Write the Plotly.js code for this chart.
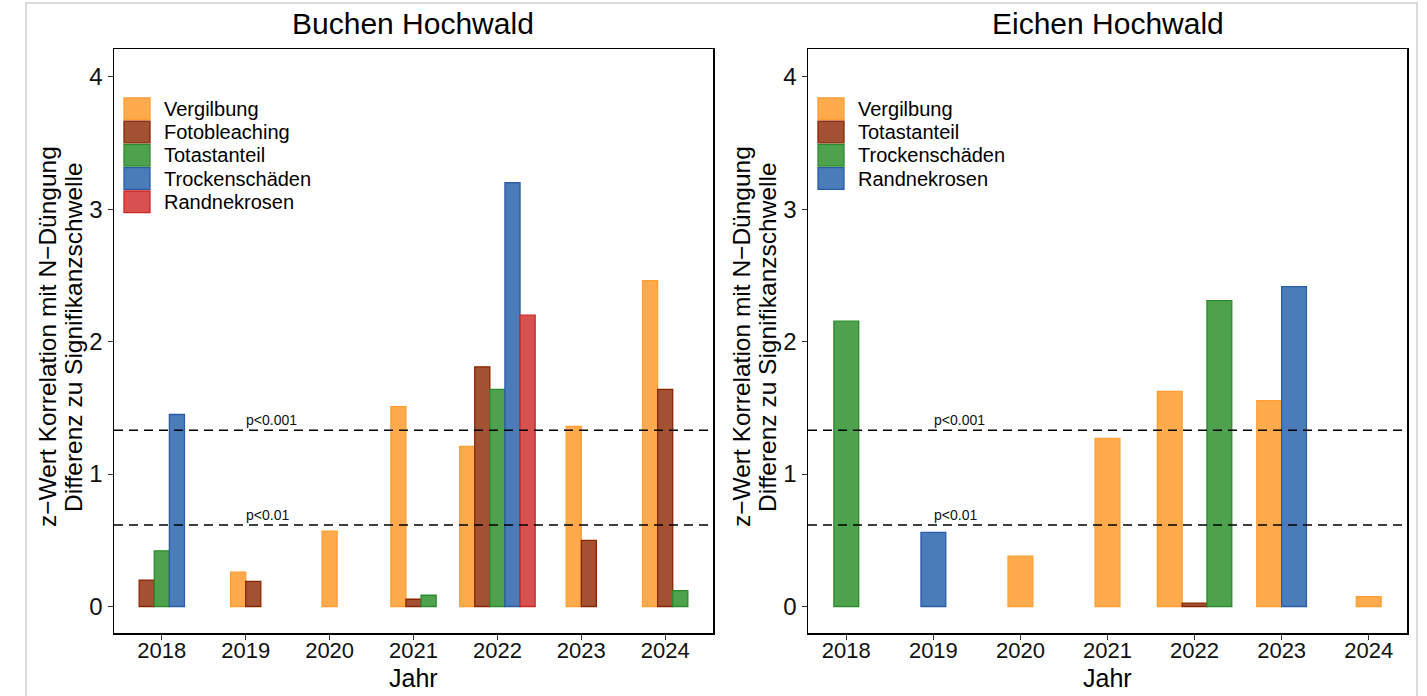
<!DOCTYPE html>
<html>
<head>
<meta charset="utf-8">
<script src="https://cdn.plot.ly/plotly-3.0.1.min.js"></script>
<style>
  html, body { margin: 0; padding: 0; background: #fff; }
  #chart { width: 1427px; height: 696px; }
</style>
</head>
<body>
<div id="chart"></div>
<script>
// ---------------- data ----------------
const years = ['2018', '2019', '2020', '2021', '2022', '2023', '2024'];

// Buchen Hochwald
const buchenSeries = ['Vergilbung', 'Fotobleaching', 'Totastanteil', 'Trockenschäden', 'Randnekrosen'];
const buchenVergilbung     = [null, 0.26, 0.57, 1.51, 1.21, 1.36, 2.46];
const buchenFotobleaching  = [0.20, 0.19, null, 0.055, 1.81, 0.50, 1.64];
const buchenTotastanteil   = [0.42, null, null, 0.085, 1.64, null, 0.12];
const buchenTrockenschaeden = [1.45, null, null, null, 3.20, null, null];
const buchenRandnekrosen   = [null, null, null, null, 2.20, null, null];

// Eichen Hochwald
const eichenSeries = ['Vergilbung', 'Totastanteil', 'Trockenschäden', 'Randnekrosen'];
const eichenVergilbung      = [null, null, 0.38, 1.27, 1.625, 1.555, 0.075];
const eichenTotastanteil    = [null, null, null, null, 0.025, null, null];
const eichenTrockenschaeden = [2.155, null, null, null, 2.31, null, null];
const eichenRandnekrosen    = [null, 0.56, null, null, null, 2.415, null];

// Significance thresholds (difference to z = 1.96)
const thresholds = [1.331, 0.616];
const thresholdLabels = ['p&lt;0.001', 'p&lt;0.01'];

const panelTitles = ['Buchen Hochwald', 'Eichen Hochwald'];
const yTitleLines = ['z\u2212Wert Korrelation mit N\u2212Düngung', 'Differenz zu Signifikanzschwelle'];
const xTitle = 'Jahr';

// ---------------- styles ----------------
const buchenFill = ['#FFAA4C', '#A25133', '#4EA24E', '#4A7CBA', '#D75151'];
const buchenLine = ['#FF9F33', '#8B2500', '#2A8B2A', '#2A5CA8', '#CD2626'];
const eichenFill = ['#FFAA4C', '#A25133', '#4EA24E', '#4A7CBA'];
const eichenLine = ['#FF9F33', '#8B2500', '#2A8B2A', '#2A5CA8'];

const W = 1427, H = 696;
const FONT = 'Liberation Sans, Arial, Helvetica, sans-serif';
const panels = [
  { x0: 114, x1: 713, xr: [-0.57, 6.57], barW: 0.18 },
  { x0: 808, x1: 1407, xr: [-0.44, 6.44], barW: 0.285 }
];
const plotTop = 49, plotBottom = 633;
const px = v => v / W;
const py = v => 1 - v / H;

// dodge bars centered on category, like position_dodge(preserve = "single")
function dodge(seriesVals, w) {
  const counts = years.map((_, j) => seriesVals.filter(s => s[j] != null).length);
  const k = years.map(() => 0);
  return seriesVals.map(s => years.map((_, j) => {
    if (s[j] == null) return null;
    const off = -counts[j] * w / 2 + k[j] * w;
    k[j]++;
    return off;
  }));
}

function makeTraces(names, vals, fills, lines, w, xa, ya) {
  const offs = dodge(vals, w);
  return names.map((name, i) => {
    const xs = [], ys = [], os = [];
    years.forEach((yr, j) => {
      if (vals[i][j] != null) { xs.push(yr); ys.push(vals[i][j]); os.push(offs[i][j]); }
    });
    return {
      type: 'bar', name: name, x: xs, y: ys, offset: os, width: w,
      xaxis: xa, yaxis: ya, showlegend: false,
      marker: { color: fills[i], line: { color: lines[i], width: 1.3 } },
      hoverinfo: 'x+y+name'
    };
  });
}

const traces = [].concat(
  makeTraces(buchenSeries,
    [buchenVergilbung, buchenFotobleaching, buchenTotastanteil, buchenTrockenschaeden, buchenRandnekrosen],
    buchenFill, buchenLine, panels[0].barW, 'x', 'y'),
  makeTraces(eichenSeries,
    [eichenVergilbung, eichenTotastanteil, eichenTrockenschaeden, eichenRandnekrosen],
    eichenFill, eichenLine, panels[1].barW, 'x2', 'y2')
);

function xaxisDef(p) {
  return {
    type: 'category', categoryorder: 'array', categoryarray: years,
    domain: [px(p.x0), px(p.x1)], range: p.xr,
    showline: true, mirror: true, linecolor: '#000', linewidth: 1.5,
    ticks: 'outside', ticklen: 5, tickwidth: 1, tickcolor: '#333',
    ticklabelstandoff: -8,
    tickfont: { family: FONT, size: 22, color: '#111' },
    showgrid: false, zeroline: false, fixedrange: true
  };
}
function yaxisDef() {
  return {
    domain: [py(plotBottom), py(plotTop)], range: [-0.2, 4.21],
    tickvals: [0, 1, 2, 3, 4], ticktext: ['0', '1', '2', '3', '4'],
    showline: true, mirror: true, linecolor: '#000', linewidth: 1.5,
    ticks: 'outside', ticklen: 5, tickwidth: 1, tickcolor: '#333',
    tickfont: { family: FONT, size: 24, color: '#111' },
    showgrid: false, zeroline: false, fixedrange: true
  };
}

const shapes = [];
const annotations = [];

// outer light frame
shapes.push({ type: 'rect', xref: 'paper', yref: 'paper',
  x0: px(26), x1: px(1417), y0: py(3), y1: -0.05,
  line: { color: '#CFCFCF', width: 1.5 }, layer: 'below' });

const legendNames = [buchenSeries, eichenSeries];
const legendFills = [buchenFill, eichenFill];
const legendLines = [buchenLine, eichenLine];

panels.forEach((p, pi) => {
  const xa = pi === 0 ? 'x' : 'x2';
  const ya = pi === 0 ? 'y' : 'y2';
  const cx = (p.x0 + p.x1) / 2;

  // title
  annotations.push({ xref: 'paper', yref: 'paper', x: px(cx), y: py(24),
    xanchor: 'center', yanchor: 'middle', showarrow: false,
    text: panelTitles[pi], font: { family: FONT, size: 30, color: '#000' } });

  // x title
  annotations.push({ xref: 'paper', yref: 'paper', x: px(cx), y: py(678),
    xanchor: 'center', yanchor: 'middle', showarrow: false,
    text: xTitle, font: { family: FONT, size: 25, color: '#000' } });

  // y title (two lines)
  [47, 73].forEach((dx, li) => {
    annotations.push({ xref: 'paper', yref: 'paper', x: px(p.x0 - 114 + dx), y: py(337),
      xanchor: 'center', yanchor: 'middle', showarrow: false, textangle: -90,
      text: yTitleLines[li], font: { family: FONT, size: 24.5, color: '#000' } });
  });

  // threshold lines + labels
  thresholds.forEach((t, ti) => {
    shapes.push({ type: 'line', xref: xa + ' domain', yref: ya, x0: 0, x1: 1, y0: t, y1: t,
      line: { color: '#000', width: 1.6, dash: '9px,6px' } });
    annotations.push({ xref: xa, yref: ya, x: 0.98, y: t, xanchor: 'left', yanchor: 'bottom',
      showarrow: false, text: thresholdLabels[ti], yshift: 0,
      font: { family: FONT, size: 14, color: '#111' } });
  });

  // legend
  legendNames[pi].forEach((name, i) => {
    const top = 97 + 23.3 * i;
    shapes.push({ type: 'rect', xref: 'paper', yref: 'paper',
      x0: px(p.x0 + 10), x1: px(p.x0 + 36), y0: py(top + 0.8), y1: py(top + 22.5),
      fillcolor: legendFills[pi][i], line: { color: legendLines[pi][i], width: 1.3 } });
    annotations.push({ xref: 'paper', yref: 'paper', x: px(p.x0 + 48), y: py(top + 11.8),
      xanchor: 'left', yanchor: 'middle', showarrow: false, text: name,
      font: { family: FONT, size: 20, color: '#000' } });
  });
});

const layout = {
  width: W, height: H,
  margin: { l: 0, r: 0, t: 0, b: 0 },
  paper_bgcolor: '#fff', plot_bgcolor: '#fff',
  barmode: 'overlay',
  showlegend: false,
  font: { family: FONT },
  xaxis: Object.assign(xaxisDef(panels[0]), { anchor: 'y' }),
  yaxis: Object.assign(yaxisDef(), { anchor: 'x' }),
  xaxis2: Object.assign(xaxisDef(panels[1]), { anchor: 'y2' }),
  yaxis2: Object.assign(yaxisDef(), { anchor: 'x2' }),
  shapes: shapes,
  annotations: annotations
};

Plotly.newPlot('chart', traces, layout, { displayModeBar: false, staticPlot: true });
</script>
</body>
</html>
